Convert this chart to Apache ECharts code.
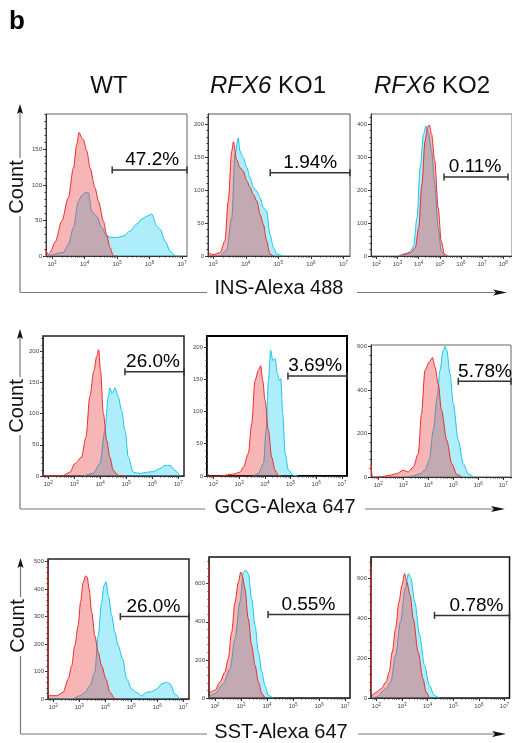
<!DOCTYPE html>
<html><head><meta charset="utf-8">
<script src="https://cdn.jsdelivr.net/npm/echarts@6.0.0/dist/echarts.min.js"></script>
<style>html,body{margin:0;padding:0;background:#fff}#c{width:512px;height:743px}</style>
</head><body><div id="c"></div>
<script>
const FONT = '"Liberation Sans", Arial, Helvetica, sans-serif';

// ---- data: x values are log10(fluorescence), y values are counts ----
// Row 1: INS-Alexa 488
const insWT_redX  = [2.80,2.89,2.94,3.10,3.30,3.50,3.66,3.76,3.83,3.91,3.96,4.07,4.17,4.32,4.43,4.58,4.68,4.78,4.89,5.00];
const insWT_redY  = [9,2,5,20,49,82,124,157,174,167,164,148,124,96,77,49,30,12,0,0];
const insWT_blueX = [2.89,3.35,3.50,3.66,3.81,3.91,4.02,4.12,4.22,4.37,4.53,4.68,4.84,4.99,5.19,5.40,5.60,5.76,5.91,6.07,6.22,6.32,6.48,6.63,6.79,6.94];
const insWT_blueY = [0,5,16,40,77,85,89,89,63,56,40,28,26,26,28,35,45,52,56,59,42,38,21,7,0,0];

const insKO1_redX  = [2.85,3.00,3.21,3.36,3.46,3.57,3.62,3.72,3.82,3.92,4.03,4.13,4.23,4.34,4.44,4.54,4.64,4.74,4.85];
const insKO1_redY  = [5,2,5,23,83,159,173,146,134,129,114,104,93,83,63,48,23,3,0];
const insKO1_blueX = [3.21,3.41,3.57,3.67,3.77,3.82,3.92,4.03,4.13,4.23,4.34,4.44,4.54,4.64,4.74,4.85,4.95,5.15];
const insKO1_blueY = [0,8,58,154,179,159,149,134,119,104,98,88,73,68,33,13,3,0];

const insKO2_redX  = [3.07,3.38,3.61,3.84,4.00,4.15,4.30,4.42,4.50,4.61,4.76,4.92,5.07,5.22,5.38];
const insKO2_redY  = [0,7,10,25,86,217,348,389,397,369,288,146,45,5,0];
const insKO2_blueX = [3.07,3.38,3.61,3.76,3.92,4.07,4.23,4.34,4.46,4.61,4.76,4.92,5.07,5.22];
const insKO2_blueY = [0,5,15,30,116,268,369,394,374,318,217,86,15,0];

// Row 2: GCG-Alexa 647
const gcgWT_redX  = [1.81,1.87,2.19,2.58,2.83,3.03,3.28,3.45,3.60,3.76,3.86,3.94,4.01,4.12,4.25,4.37,4.50,4.69,4.96];
const gcgWT_redY  = [4,0,0,1,6,20,30,62,127,169,191,202,169,100,57,30,9,1,0];
const gcgWT_blueX = [3.35,3.73,3.99,4.18,4.31,4.37,4.46,4.57,4.69,4.82,4.95,5.08,5.27,5.53,5.78,6.04,6.30,6.49,6.68,6.87,7.07];
const gcgWT_blueY = [0,4,20,73,127,141,132,141,127,105,73,30,6,4,6,7,12,17,17,9,0];

const gcgKO1_redX  = [1.77,1.84,2.26,2.78,3.04,3.17,3.36,3.49,3.62,3.75,3.84,3.92,4.01,4.14,4.27,4.40,4.53,4.66];
const gcgKO1_redY  = [4,0,0,3,6,14,35,81,148,164,171,148,117,71,29,9,1,0];
const gcgKO1_blueX = [3.56,3.75,3.95,4.05,4.14,4.23,4.31,4.40,4.49,4.57,4.62,4.70,4.79,4.92,5.11,5.30];
const gcgKO1_blueY = [0,4,19,71,148,195,179,182,158,148,151,96,35,9,1,0];

const gcgKO2_redX  = [1.71,1.76,2.07,2.47,2.73,3.00,3.20,3.40,3.60,3.73,3.87,4.04,4.17,4.27,4.40,4.53,4.74,4.94,5.14,5.34];
const gcgKO2_redY  = [61,0,0,8,15,31,23,46,107,291,491,529,549,506,429,307,169,61,12,0];
const gcgKO2_blueX = [3.13,3.40,3.67,3.87,4.04,4.20,4.36,4.47,4.60,4.67,4.74,4.87,5.00,5.20,5.40,5.60,5.80];
const gcgKO2_blueY = [0,5,15,31,77,215,368,491,583,601,583,475,337,169,61,15,0];

// Row 3: SST-Alexa 647
const sstWT_redX  = [1.80,1.81,1.82,2.13,2.38,2.58,2.71,2.83,2.96,3.05,3.15,3.25,3.31,3.38,3.48,3.60,3.73,3.86,4.03,4.18,4.37,4.56];
const sstWT_redY  = [490,15,12,12,24,73,121,194,267,351,424,448,442,400,315,230,170,121,73,24,2,0];
const sstWT_blueX = [1.86,2.38,2.77,3.03,3.22,3.41,3.60,3.73,3.86,3.95,4.03,4.12,4.25,4.37,4.50,4.67,4.82,5.02,5.21,5.40,5.59,5.78,5.98,6.17,6.36,6.49,6.68,6.87];
const sstWT_blueY = [0,0,2,12,24,48,97,230,351,412,427,376,303,242,194,145,73,36,24,12,24,27,36,55,61,55,18,0];

const sstKO1_redX  = [1.77,1.78,1.81,2.00,2.19,2.38,2.51,2.64,2.77,2.90,2.99,3.06,3.15,3.28,3.41,3.54,3.67,3.80,3.92];
const sstKO1_redY  = [705,35,31,40,84,136,206,346,504,609,661,635,574,416,276,171,84,23,0];
const sstKO1_blueX = [1.77,2.00,2.32,2.58,2.77,2.96,3.09,3.19,3.28,3.41,3.54,3.67,3.80,3.92,4.05,4.24];
const sstKO1_blueY = [5,23,75,154,311,504,661,670,653,521,381,241,136,66,14,0];

const sstKO2_redX  = [1.80,1.81,1.82,2.00,2.19,2.38,2.50,2.62,2.75,2.88,3.00,3.10,3.19,3.32,3.44,3.63,3.82,3.94,4.07];
const sstKO2_redY  = [655,20,13,30,47,80,130,230,347,480,563,622,580,513,397,230,97,30,0];
const sstKO2_blueX = [1.81,2.00,2.38,2.56,2.75,2.94,3.13,3.25,3.35,3.50,3.69,3.88,4.07,4.26,4.45];
const sstKO2_blueY = [0,5,47,80,213,380,547,622,597,480,313,163,63,13,0];

// gates (bracket) per panel
const gatePct   = ['47.2%','1.94%','0.11%','26.0%','3.69%','5.78%','26.0%','0.55%','0.78%'];
const gateFrom  = [4.85, 4.75, 5.20, 4.95, 4.90, 5.20, 4.58, 4.04, 4.27];
const gateTo    = [7.15, 7.20, 8.23, 7.22, 7.20, 7.31, 7.22, 7.19, 7.20];
const gateY     = [121, 126, 239, 167, 155, 440, 300, 438, 413];
const gateLabelX= [6.08, 5.98, 6.67, 6.03, 5.96, 6.27, 5.85, 5.59, 5.91];

// tick labels
const yTicks = [[0,50,100,150],[0,50,100,150,200],[0,100,200,300,400],
                [0,50,100,150,200],[0,50,100,150,200],[0,200,400,600],
                [0,100,200,300,400,500],[0,200,400,600],[0,200,400,600]];
const yMinorStep = [10,10,20,10,10,40,20,40,40];
const xDecades = [[3,4,5,6,7],[3,4,5,6,7],[2,3,4,5,6,7,8],
                  [2,3,4,5,6,7],[2,3,4,5,6,7],[2,3,4,5,6,7],
                  [2,3,4,5,6,7],[2,3,4,5,6,7],[2,3,4,5,6,7]];

const colHeaders = ['WT','RFX6 KO1','RFX6 KO2'];
const rowTitles  = ['INS-Alexa 488','GCG-Alexa 647','SST-Alexa 647'];

const redXs  = [insWT_redX,insKO1_redX,insKO2_redX,gcgWT_redX,gcgKO1_redX,gcgKO2_redX,sstWT_redX,sstKO1_redX,sstKO2_redX];
const redYs  = [insWT_redY,insKO1_redY,insKO2_redY,gcgWT_redY,gcgKO1_redY,gcgKO2_redY,sstWT_redY,sstKO1_redY,sstKO2_redY];
const blueXs = [insWT_blueX,insKO1_blueX,insKO2_blueX,gcgWT_blueX,gcgKO1_blueX,gcgKO2_blueX,sstWT_blueX,sstKO1_blueX,sstKO2_blueX];
const blueYs = [insWT_blueY,insKO1_blueY,insKO2_blueY,gcgWT_blueY,gcgKO1_blueY,gcgKO2_blueY,sstWT_blueY,sstKO1_blueY,sstKO2_blueY];

// ---- layout (pixels) ----
const layout = [
  {left:46, top:114, width:141, height:142, xMin:2.815, xMax:7.15, yMax:200, bc:'#666', bw:1},
  {left:208,top:114, width:142, height:142, xMin:2.84, xMax:7.2,  yMax:215, bc:'#555', bw:1},
  {left:371,top:114, width:145, height:142, xMin:1.74, xMax:8.42, yMax:430, bc:'#777', bw:1},
  {left:43, top:336, width:141, height:140, xMin:1.80, xMax:7.22, yMax:224, bc:'#222', bw:1.5},
  {left:207,top:336, width:140, height:140, xMin:1.75, xMax:7.2,  yMax:217, bc:'#000', bw:2},
  {left:371,top:345, width:140, height:132, xMin:1.71, xMax:7.31, yMax:607, bc:'#666', bw:1},
  {left:48, top:559, width:141, height:140, xMin:1.80, xMax:7.22, yMax:509, bc:'#222', bw:1.5},
  {left:209,top:557, width:141, height:141, xMin:1.77, xMax:7.19, yMax:740, bc:'#111', bw:1.5},
  {left:371,top:557, width:141, height:141, xMin:1.79, xMax:7.2,  yMax:705, bc:'#111', bw:1.5}
];

const grids=[], xAxes=[], yAxes=[], series=[];
const axisColor = '#333', labColor = '#444';
layout.forEach((L,i)=>{
  grids.push({left:L.left, top:L.top, width:L.width, height:L.height, show:true,
    borderColor:L.bc, borderWidth:L.bw, backgroundColor:'rgba(0,0,0,0)', containLabel:false});
  const dec = xDecades[i];
  const minors = [];
  for (let d=1; d<=9; d++) for (let k=2;k<=9;k++){ const v=d+Math.log10(k); if(v>L.xMin && v<L.xMax) minors.push(v); }
  xAxes.push({type:'value', gridIndex:i, min:L.xMin, max:L.xMax, position:'bottom',
    axisLine:{show:true, onZero:false, lineStyle:{color:axisColor, width:1}},
    axisTick:{show:true, customValues:dec, length:3, lineStyle:{color:axisColor}},
    axisLabel:{show:true, customValues:dec, margin:4, formatter:(v)=>'{b|10}{s|'+Math.round(v)+'}',
      rich:{b:{fontSize:6, color:labColor, fontFamily:FONT}, s:{fontSize:4.5, color:labColor, fontFamily:FONT, padding:[0,0,4,0]}}},
    splitLine:{show:false}});
  xAxes.push({type:'value', gridIndex:i, min:L.xMin, max:L.xMax, position:'bottom',
    axisLine:{show:false}, axisTick:{show:true, customValues:minors, length:1.5, lineStyle:{color:axisColor}},
    axisLabel:{show:false}, splitLine:{show:false}});
  const yMin=[]; for(let v=0; v<=L.yMax; v+=yMinorStep[i]) yMin.push(v);
  yAxes.push({type:'value', gridIndex:i, min:0, max:L.yMax, position:'left',
    axisLine:{show:true, onZero:false, lineStyle:{color:axisColor, width:1}},
    axisTick:{show:true, customValues:yTicks[i], length:3, lineStyle:{color:axisColor}},
    axisLabel:{show:true, customValues:yTicks[i], margin:4, fontSize:6, color:labColor, fontFamily:FONT},
    splitLine:{show:false}});
  yAxes.push({type:'value', gridIndex:i, min:0, max:L.yMax, position:'left',
    axisLine:{show:false}, axisTick:{show:true, customValues:yMin, length:1.5, lineStyle:{color:axisColor}},
    axisLabel:{show:false}, splitLine:{show:false}});

  series.push({type:'line', xAxisIndex:2*i, yAxisIndex:2*i, z:2, silent:true,
    data: blueXs[i].map((x,k)=>[x, blueYs[i][k]]), symbol:'none', smooth:0.3, smoothMonotone:'x',
    lineStyle:{color:'#19c3ee', width:1}, areaStyle:{color:'rgba(0,200,240,0.45)'}});
  series.push({type:'line', xAxisIndex:2*i, yAxisIndex:2*i, z:3, silent:true,
    data: redXs[i].map((x,k)=>[x, redYs[i][k]]), symbol:'none', smooth:0.3, smoothMonotone:'x',
    lineStyle:{color:'#ee2a2a', width:1}, areaStyle:{color:'rgba(235,45,45,0.5)'}});
  series.push({type:'line', xAxisIndex:2*i, yAxisIndex:2*i, z:5, silent:true, clip:false,
    data:[[gateFrom[i],gateY[i]],[gateTo[i],gateY[i]]], symbol:'rect', symbolSize:[1.5,7], showSymbol:true,
    itemStyle:{color:'#333'}, lineStyle:{color:'#333', width:1.5}});
  series.push({type:'scatter', xAxisIndex:2*i, yAxisIndex:2*i, z:6, silent:true,
    data:[[gateLabelX[i], gateY[i]]], symbolSize:1, itemStyle:{color:'rgba(0,0,0,0)'},
    label:{show:true, position:'top', distance:0, formatter:gatePct[i], fontSize:19, color:'#000', opacity:1, fontFamily:FONT}});
});

// ---- decorations ----
const lineC = '#777', arrowC = '#111';
const seg = (x1,y1,x2,y2)=>({type:'line', shape:{x1,y1,x2,y2}, style:{stroke:lineC, lineWidth:1.2}, silent:true});
const upArrow = (x,y)=>({type:'polygon', shape:{points:[[x,y],[x+3,y+10],[x,y+8],[x-3,y+10]]}, style:{fill:arrowC}, silent:true});
const rightArrow = (x,y)=>({type:'polygon', shape:{points:[[x,y],[x-14,y-3],[x-11,y],[x-14,y+3]]}, style:{fill:arrowC}, silent:true});
const txt = (x,y,text,size,extra)=>Object.assign({type:'text', x, y, silent:true,
  style:Object.assign({text, fontSize:size, fontFamily:FONT, fill:'#111', align:'center', verticalAlign:'middle', textAlign:'center', textVerticalAlign:'middle'}, extra||{})});

const rowGeo = [
  {vx:20, top:104, gap:[158,216], hy:292.5, hgap:[207,357], hend:507, cy:187, cx:17.5, ty:288.5, tx:279},
  {vx:20, top:329, gap:[377,435], hy:509,   hgap:[205,365], hend:505, cy:406, cx:17.5, ty:507.5, tx:285},
  {vx:20.5, top:558, gap:[597,656], hy:734, hgap:[207,358], hend:506, cy:626, cx:18.5, ty:732.5, tx:281}
];
const graphic = [];
rowGeo.forEach((g,r)=>{
  graphic.push(seg(g.vx, g.top+8, g.vx, g.gap[0]));
  graphic.push(seg(g.vx, g.gap[1], g.vx, g.hy));
  graphic.push(upArrow(g.vx, g.top));
  graphic.push(seg(g.vx, g.hy, g.hgap[0], g.hy));
  graphic.push(seg(g.hgap[1], g.hy, g.hend-11, g.hy));
  graphic.push(rightArrow(g.hend, g.hy));
  const c = txt(g.cx, g.cy, 'Count', 20); c.rotation = Math.PI/2; graphic.push(c);
  graphic.push(txt(g.tx, g.ty, rowTitles[r], 20));
});
graphic.push(txt(17, 22, 'b', 26, {fontWeight:'bold', fill:'#000'}));
const hdrX = [109, 268, 432];
colHeaders.forEach((h,i)=>{
  const t = h.startsWith('RFX6') ? '{i|RFX6}' + h.slice(4) : h;
  graphic.push(txt(hdrX[i], 86, t, 24, {rich:{i:{fontStyle:'italic', fontSize:24, fontFamily:FONT, fill:'#111'}}}));
});

const chart = echarts.init(document.getElementById('c'), null, {renderer:'canvas'});
chart.setOption({animation:false, backgroundColor:'#fff', grid:grids, xAxis:xAxes, yAxis:yAxes, series, graphic});
</script></body></html>
